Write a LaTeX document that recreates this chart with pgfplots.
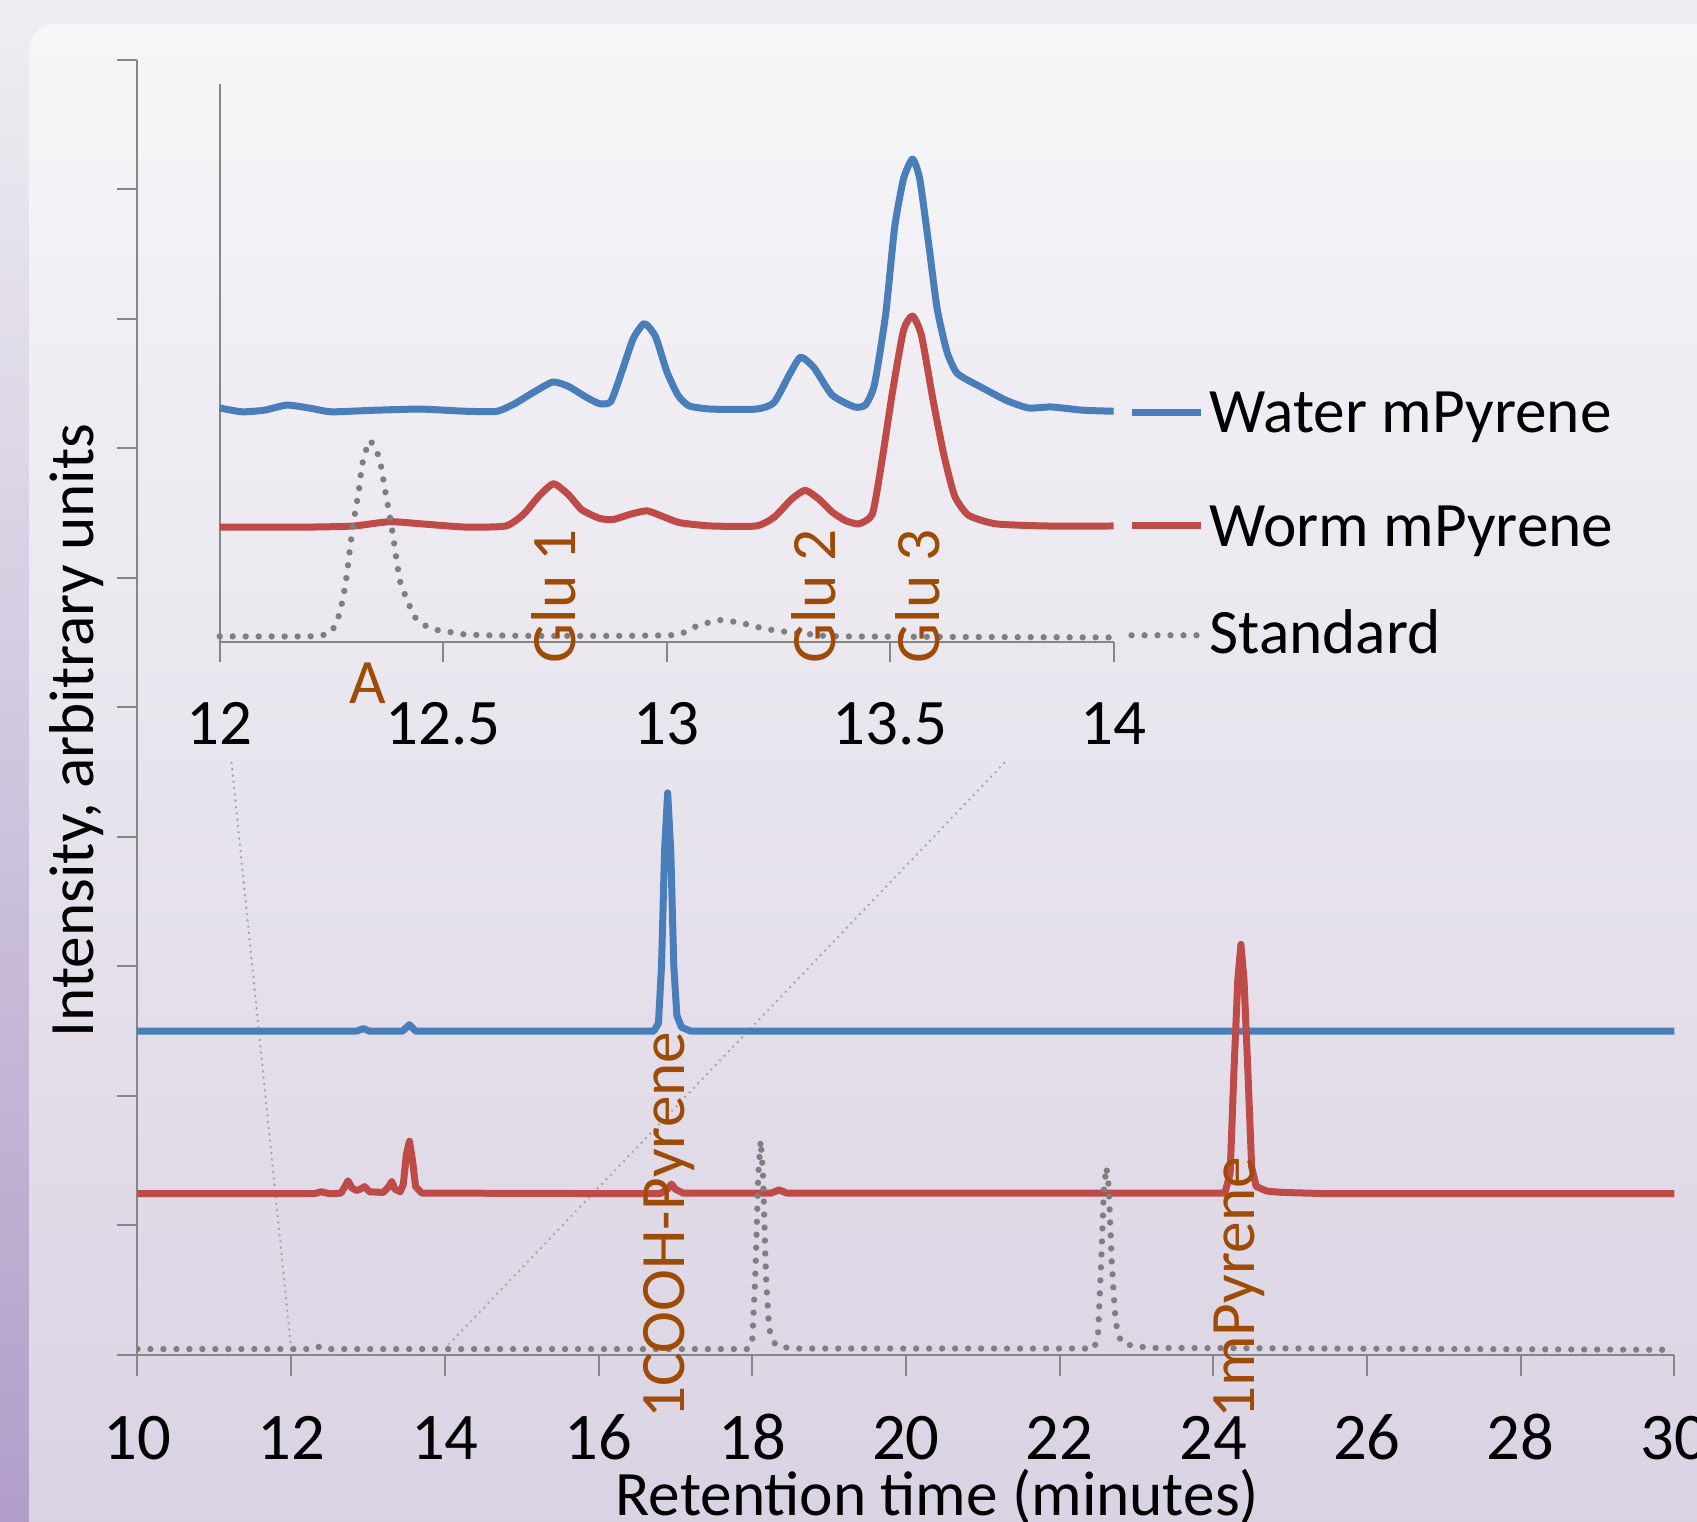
\documentclass[border=0pt]{standalone}
\usepackage{pgfplots}
\pgfplotsset{compat=1.18}
\usepackage{fontspec}
\setmainfont{Carlito}

\definecolor{wblue}{RGB}{74,126,187}
\definecolor{wred}{RGB}{190,75,72}
\definecolor{stdgray}{RGB}{127,127,127}
\definecolor{callgray}{RGB}{165,165,165}
\definecolor{annot}{RGB}{158,75,8}
\definecolor{axgray}{RGB}{134,134,134}
\definecolor{bgtop}{RGB}{239,238,242}
\definecolor{bgbot}{RGB}{176,158,201}
\definecolor{pantop}{RGB}{246,246,248}
\definecolor{panbot}{RGB}{217,209,226}

\tikzset{
  waterline/.style={wblue, line width=2.1pt, line join=round},
  wormline/.style={wred, line width=2.1pt, line join=round},
  stdline/.style={stdgray, line width=1.9pt, line cap=round, dash pattern=on 0pt off 3.9pt},
  callout/.style={callgray, line width=0.8pt, line cap=round, dash pattern=on 0pt off 1.9pt},
  lbl/.style={font=\fontsize{19}{22}\selectfont},
}

\begin{document}
\begin{tikzpicture}
% background panel
\begin{scope}[x=0.325pt,y=-0.325pt,yshift=456.95pt]
  \shade[top color=bgtop, bottom color=bgbot] (0,0) rectangle (1568,1406);
  \shade[top color=pantop, bottom color=panbot, rounded corners=8pt] (27,22) rectangle (1620,1460);
\end{scope}

% main chromatogram
\begin{axis}[
  at={(41.275pt,50.05pt)}, anchor=south west,
  scale only axis, width=461.5pt, height=389.025pt,
  xmin=10, xmax=30, ymin=0, ymax=10,
  axis x line*=bottom, axis y line*=left,
  axis line style={axgray, line width=0.6pt, -},
  xtick={10,12,...,30}, ytick={0,1,...,10}, yticklabels={},
  tick align=outside, major tick length=6.2pt,
  tick style={axgray, line width=0.6pt},
  xticklabel style={font=\fontsize{20}{22}\selectfont, anchor=base, inner sep=1pt, yshift=-25.3pt},
  /pgf/number format/assume math mode=true,
]
% zoom callout lines
\addplot[callout] coordinates {(11.225,4.57) (12,0.05)};
\addplot[callout] coordinates {(21.28,4.57) (14,0.05)};

\addplot[waterline] coordinates {
  (10,2.50) (12.85,2.50) (12.94,2.52) (13.02,2.50) (13.45,2.50) (13.54,2.55) (13.62,2.50)
  (16.72,2.50) (16.78,2.56) (16.82,3.0) (16.86,3.9) (16.9,4.34) (16.94,3.9) (16.98,3.0)
  (17.02,2.62) (17.08,2.53) (17.2,2.50) (30,2.50)
};
\addplot[wormline] coordinates {
  (10,1.245) (12.3,1.245) (12.39,1.26) (12.5,1.245) (12.65,1.25) (12.7,1.30) (12.74,1.345)
  (12.79,1.29) (12.85,1.27) (12.9,1.28) (12.957,1.30) (13.02,1.26) (13.2,1.255) (13.27,1.30)
  (13.31,1.34) (13.35,1.28) (13.42,1.26) (13.46,1.32) (13.5,1.55) (13.54,1.65) (13.58,1.50)
  (13.62,1.30) (13.7,1.25) (16.8,1.245) (16.9,1.28) (16.95,1.32) (17.0,1.28) (17.1,1.25)
  (18.25,1.25) (18.35,1.275) (18.45,1.25) (24.15,1.25) (24.22,1.40) (24.27,2.20) (24.32,2.90)
  (24.36,3.17) (24.40,2.90) (24.45,2.20) (24.5,1.45) (24.56,1.30) (24.7,1.265) (24.9,1.255)
  (25.5,1.245) (30,1.245)
};
\addplot[stdline] coordinates {
  (10,0.046) (12.30,0.046) (12.37,0.065) (12.45,0.046) (17.95,0.046) (18.00,0.10) (18.04,0.60)
  (18.08,1.40) (18.11,1.657) (18.14,1.40) (18.18,0.60) (18.22,0.20) (18.3,0.08) (18.4,0.06)
  (18.6,0.05) (22.45,0.05) (22.50,0.15) (22.54,0.70) (22.58,1.30) (22.61,1.45) (22.64,1.30)
  (22.68,0.70) (22.73,0.25) (22.8,0.10) (22.95,0.07) (23.2,0.055) (30,0.04)
};
\end{axis}

% zoomed inset 12-14 min
\begin{axis}[
  at={(65.975pt,264.225pt)}, anchor=south west,
  scale only axis, width=268.45pt, height=167.375pt,
  xmin=12, xmax=14, ymin=0, ymax=515,
  axis x line*=bottom, axis y line*=left,
  axis line style={axgray, line width=0.6pt, -},
  xtick={12,12.5,13,13.5,14}, ytick=\empty,
  tick align=outside, major tick length=6.2pt,
  tick style={axgray, line width=0.6pt},
  xticklabel style={font=\fontsize{19.5}{22}\selectfont, anchor=base, inner sep=1pt, yshift=-24.7pt},
  /pgf/number format/assume math mode=true,
  clip=false,
]
\addplot[waterline, smooth, tension=0.35] coordinates {
  (12.00,216) (12.05,212.5) (12.10,214) (12.15,218.7) (12.20,216) (12.25,212.5) (12.35,214)
  (12.45,215) (12.55,213) (12.62,213) (12.66,220) (12.70,230) (12.745,240) (12.78,236)
  (12.82,226) (12.85,220) (12.875,222) (12.90,250) (12.925,280) (12.95,294) (12.975,282)
  (13.00,250) (13.025,228) (13.05,218) (13.10,215) (13.20,215) (13.24,221) (13.276,248)
  (13.30,263) (13.33,253) (13.37,228) (13.42,217) (13.445,219) (13.465,238) (13.49,303)
  (13.51,383) (13.53,428) (13.55,446) (13.566,428) (13.586,368) (13.605,308) (13.627,268)
  (13.65,248) (13.70,236) (13.76,223) (13.81,216) (13.86,217) (13.93,214) (14.00,213)
};
\addplot[wormline, smooth, tension=0.35] coordinates {
  (12.00,106) (12.20,106) (12.30,107) (12.38,111) (12.45,109) (12.55,106) (12.64,107)
  (12.68,118) (12.715,135) (12.747,146) (12.78,136) (12.81,122) (12.85,114) (12.88,113)
  (12.92,118) (12.956,121) (12.99,116) (13.03,110) (13.10,107) (13.20,107) (13.24,115)
  (13.28,132) (13.31,140) (13.34,132) (13.37,120) (13.40,112) (13.43,109) (13.46,118)
  (13.48,163) (13.506,233) (13.53,288) (13.55,301) (13.57,283) (13.596,223) (13.62,173)
  (13.644,135) (13.675,117) (13.736,109) (13.85,107) (14.00,107)
};
\addplot[stdline, smooth, tension=0.35] coordinates {
  (12.00,5) (12.20,5) (12.24,7) (12.25,9) (12.263,20) (12.271,31) (12.282,55) (12.293,91)
  (12.301,115) (12.311,139) (12.318,162) (12.325,174) (12.336,186) (12.353,174) (12.361,162)
  (12.37,140) (12.381,115) (12.387,100) (12.394,80) (12.404,55) (12.413,45) (12.424,34)
  (12.436,23) (12.46,15) (12.485,11) (12.515,9) (12.545,7) (12.60,6) (12.70,5.5) (12.90,5.5)
  (13.00,6) (13.03,7) (13.07,15) (13.12,20) (13.17,17) (13.22,12) (13.27,9) (13.32,7)
  (13.40,5) (14.00,4)
};
% series keys at the line ends
\addplot[waterline] coordinates {(14.04,212) (14.196,212)};
\addplot[wormline] coordinates {(14.04,107) (14.196,107)};
\addplot[stdline] coordinates {(14.04,6) (14.196,6)};
\end{axis}

% text
\begin{scope}[x=0.325pt,y=-0.325pt,yshift=456.95pt]
  \node[lbl, anchor=base west, inner sep=0pt] at (1117,400) {Water mPyrene};
  \node[lbl, anchor=base west, inner sep=0pt] at (1117,505) {Worm mPyrene};
  \node[lbl, anchor=base west, inner sep=0pt] at (1117,604) {Standard};
  \node[lbl, annot, anchor=base, inner sep=0pt] at (340,650) {A};
  \node[lbl, annot, rotate=90, anchor=base, inner sep=0pt] at (532,551) {Glu 1};
  \node[lbl, annot, rotate=90, anchor=base, inner sep=0pt] at (772,551) {Glu 2};
  \node[lbl, annot, rotate=90, anchor=base, inner sep=0pt] at (868,551) {Glu 3};
  \node[lbl, annot, rotate=90, anchor=base, inner sep=0pt] at (632,1132) {1COOH-Pyrene};
  \node[lbl, annot, rotate=90, anchor=base, inner sep=0pt] at (1159,1190) {1mPyrene};
  \node[lbl, anchor=base, inner sep=0pt] at (866,1400) {Retention time (minutes)};
  \node[lbl, rotate=90, anchor=base, inner sep=0pt] at (86,675) {Intensity, arbitrary units};
  \pgfresetboundingbox
  \useasboundingbox (0,0) rectangle (1568,1406);
\end{scope}
\end{tikzpicture}
\end{document}
